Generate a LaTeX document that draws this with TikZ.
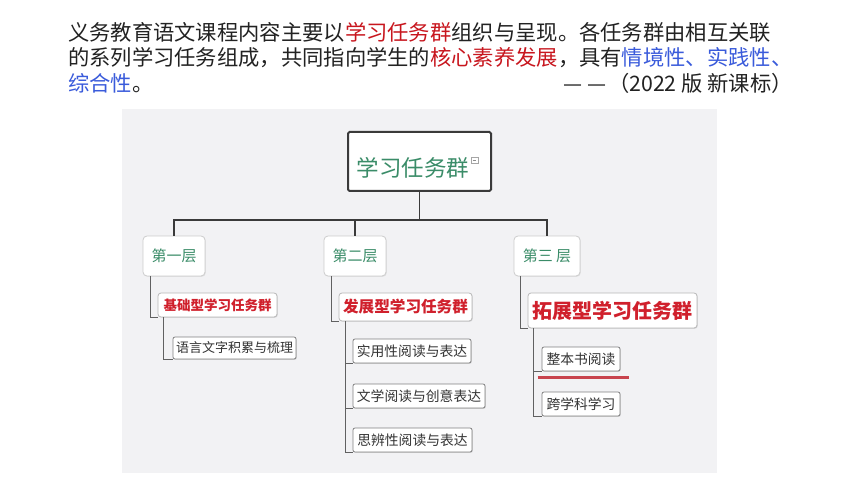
\documentclass[tikz,border=0pt]{standalone}
\usepackage{fontspec}
\setmainfont{Noto Sans CJK SC}
\usetikzlibrary{shadows}
\definecolor{txt}{HTML}{222222}
\definecolor{redt}{HTML}{C8161E}
\definecolor{bluet}{HTML}{3A5BDB}
\definecolor{panel}{HTML}{F2F2F4}
\definecolor{greent}{HTML}{3A8C68}
\definecolor{lineC}{HTML}{3A3A3A}
\definecolor{grpred}{HTML}{D0202C}
\definecolor{ulred}{HTML}{C8444E}
\tikzset{
  paratext/.style={anchor=base west, inner sep=0pt, text=txt, font=\fontsize{21.3}{25}\selectfont},
  rootbox/.style={draw=lineC, line width=2pt, fill=white, rounded corners=1.5pt, minimum width=143pt, minimum height=59pt, inner sep=0pt},
  roottext/.style={inner sep=0pt, text=greent, font=\fontsize{22.5}{26}\selectfont},
  layerbox/.style={draw=black!20, line width=0.8pt, fill=white, rounded corners=4pt, minimum height=40pt, inner sep=0pt, text=greent, font=\fontsize{15}{18}\selectfont, drop shadow={shadow xshift=0.8pt, shadow yshift=-0.8pt, opacity=0.15}},
  grpbox/.style={draw=black!28, line width=0.8pt, fill=white, rounded corners=3pt, inner sep=0pt, text=grpred, drop shadow={shadow xshift=0.8pt, shadow yshift=-0.8pt, opacity=0.22}},
  leafbox/.style={draw=black!50, line width=0.8pt, fill=white, rounded corners=2pt, minimum height=24pt, inner sep=0pt, text=black!80, font=\fontsize{13.8}{16}\selectfont, drop shadow={shadow xshift=0.8pt, shadow yshift=-0.8pt, opacity=0.25}},
  conn/.style={draw=lineC, line width=1.8pt},
  subconn/.style={draw=black!62, line width=1.2pt}
}
\begin{document}
\begin{tikzpicture}[x=1pt, y=-1pt]
\useasboundingbox (0,0) rectangle (860,484);
\fill[white] (0,0) rectangle (860,484);

% paragraph
\node[paratext] (t1) at (68,40.8) {义务教育语文课程内容主要以\textcolor{redt}{学习任务群}组织与呈现。各任务群由相互关联};
\node[paratext] (t2) at (68,65.2) {的系列学习任务组成，共同指向学生的\textcolor{redt}{核心素养发展}，具有\textcolor{bluet}{情境性、实践性、}};
\node[paratext] (t3) at (68,91.8) {\textcolor{bluet}{综合性}。};
\node[paratext, anchor=base east] (t4) at (793,91.8) {—\kern5pt—\kern2pt（2022 版 新课标）};

% panel
\fill[panel] (122,109) rectangle (717,473);

% root
\node[rootbox] (root) at (419.5,161.5) {};
\node[roottext] (roottxt) at (413,168) {学习任务群};
\node[draw=black!35, line width=0.5pt, fill=white, minimum width=7pt, minimum height=6pt, inner sep=0pt] (icon) at (474.5,160) {};
\draw[black!45, line width=0.5pt] ([xshift=1.8pt]icon.west) -- ([xshift=-1.8pt]icon.east);

% layers
\node[layerbox, minimum width=62pt] (l1) at (174,256) {第一层};
\node[layerbox, minimum width=62pt] (l2) at (355,256) {第二层};
\node[layerbox, minimum width=66pt] (l3) at (547,256) {第三 层};

% groups
\node[grpbox, minimum width=119pt, minimum height=24pt, font=\bfseries\fontsize{13.5}{16}\selectfont] (g1) at (217.5,305) {基础型学习任务群};
\node[grpbox, minimum width=133pt, minimum height=28pt, font=\bfseries\fontsize{15.6}{18}\selectfont] (g2) at (405.5,307) {发展型学习任务群};
\node[grpbox, minimum width=169pt, minimum height=35pt, font=\bfseries\fontsize{20}{24}\selectfont] (g3) at (612.5,310.5) {拓展型学习任务群};

% leaves
\node[leafbox, minimum width=123pt, minimum height=22pt, font=\fontsize{13}{15}\selectfont] (a1) at (234.5,348) {语言文字积累与梳理};
\node[leafbox, minimum width=118pt] (b1) at (412,351) {实用性阅读与表达};
\node[leafbox, minimum width=132pt] (b2) at (419,396) {文学阅读与创意表达};
\node[leafbox, minimum width=119pt] (b3) at (412.5,440) {思辨性阅读与表达};
\node[leafbox, minimum width=78pt] (c1) at (581,359) {整本书阅读};
\node[leafbox, minimum width=78pt] (c2) at (581,404) {跨学科学习};

% connectors root -> layers
\draw[conn] (root.south) -- ++(0,28) coordinate (hub);
\draw[conn] (hub) -| (l1.north);
\draw[conn] (hub) -| (l2.north);
\draw[conn] (hub) -| (l3.north);

% layers -> groups
\draw[subconn] ([xshift=8pt]l1.south west) |- (g1.south west);
\draw[subconn] ([xshift=8pt]l2.south west) |- (g2.south west);
\draw[subconn] ([xshift=7pt]l3.south west) |- (g3.south west);

% groups -> leaves
\draw[subconn] ([xshift=6pt]g1.south west) |- (a1.south west);
\draw[subconn] ([xshift=7pt]g2.south west) |- (b1.south west);
\draw[subconn] ([xshift=7pt]g2.south west) |- (b2.south west);
\draw[subconn] ([xshift=7pt]g2.south west) |- (b3.south west);
\draw[subconn] ([xshift=6pt]g3.south west) |- (c1.south west);
\draw[subconn] ([xshift=6pt]g3.south west) |- (c2.south west);

% red underline
\draw[ulred, line width=3.5pt] ([xshift=-4pt,yshift=-6pt]c1.south west) -- ([xshift=9pt,yshift=-6pt]c1.south east);
\end{tikzpicture}
\end{document}
